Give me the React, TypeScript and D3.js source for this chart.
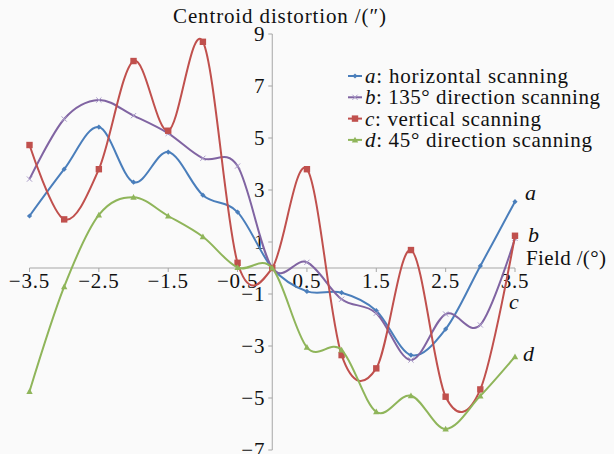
import React from "react";
import * as d3 from "d3";

// Field angles (degrees) sampled along the x axis
const fields = [-3.5, -3, -2.5, -2, -1.5, -1, -0.5, 0, 0.5, 1, 1.5, 2, 2.5, 3, 3.5];

// Centroid distortion (arc-seconds) for each scanning direction
const horizontal = [2.0, 3.8, 5.42, 3.3, 4.46, 2.8, 2.15, 0, -0.9, -0.95, -1.64, -3.35, -2.35, 0.08, 2.55];
const diag135 = [3.42, 5.73, 6.46, 5.86, 5.18, 4.22, 3.92, 0, 0.22, -1.2, -1.74, -3.54, -1.77, -2.19, 1.14];
const vertical = [4.73, 1.87, 3.8, 7.96, 5.28, 8.7, 0.2, 0, 3.8, -3.35, -3.86, 0.69, -4.95, -4.67, 1.24];
const diag45 = [-4.75, -0.72, 2.04, 2.72, 2.0, 1.2, 0.02, 0, -3.05, -3.15, -5.53, -4.91, -6.19, -4.92, -3.41];

const xTicks = [-3.5, -2.5, -1.5, -0.5, 0.5, 1.5, 2.5, 3.5];
const yTicks = [9, 7, 5, 3, 1, -1, -3, -5, -7];

type Series = {
  key: string;
  label: string;
  values: number[];
  color: string;
  marker: "diamond" | "cross" | "square" | "triangle";
  width: number;
};

const series: Series[] = [
  { key: "a", label: ": horizontal scanning", values: horizontal, color: "#4a7ebb", marker: "diamond", width: 203 },
  { key: "b", label: ": 135° direction scanning", values: diag135, color: "#8064a2", marker: "cross", width: 235 },
  { key: "c", label: ": vertical scanning", values: vertical, color: "#c0504d", marker: "square", width: 176 },
  { key: "d", label: ": 45° direction scanning", values: diag45, color: "#8fb55a", marker: "triangle", width: 227 },
];

// End-of-line letter tags
const endTags = [
  { key: "a", x: 3.5, y: 2.9, dx: 10 },
  { key: "b", x: 3.5, y: 1.3, dx: 13 },
  { key: "c", x: 3.5, y: -1.3, dx: -6 },
  { key: "d", x: 3.5, y: -3.3, dx: 8 },
];

const W = 614;
const H = 454;
const FONT = "Liberation Serif";

function Marker({ type, x, y, color }: { type: Series["marker"]; x: number; y: number; color: string }) {
  if (type === "diamond") {
    const r = 2.6;
    return <path d={`M${x},${y - r}L${x + r},${y}L${x},${y + r}L${x - r},${y}Z`} fill={color} />;
  }
  if (type === "cross") {
    const r = 2.6;
    return (
      <path
        d={`M${x - r},${y - r}L${x + r},${y + r}M${x - r},${y + r}L${x + r},${y - r}`}
        stroke="#a99bc8"
        strokeWidth={1}
        fill="none"
      />
    );
  }
  if (type === "square") {
    const r = 3.2;
    return <rect x={x - r} y={y - r} width={2 * r} height={2 * r} fill={color} />;
  }
  const r = 3.2;
  return <path d={`M${x},${y - r}L${x + r},${y + r * 0.8}L${x - r},${y + r * 0.8}Z`} fill={color} />;
}

const fmt = (t: number) => (t < 0 ? `\u2212${Math.abs(t)}` : `${t}`);

export default function App() {
  const x = d3.scaleLinear().domain([-3.5, 3.5]).range([29.5, 515]);
  const y = d3.scaleLinear().domain([-7, 9]).range([450, 34]);
  const line = d3
    .line<number>()
    .x((_, i) => x(fields[i]))
    .y((v) => y(v))
    .curve(d3.curveCardinal.tension(0));

  const x0 = x(0);
  const y0 = y(0);

  return (
    <svg
      width={W}
      height={H}
      style={{ position: "absolute", left: 0, top: 0, background: "#fafafa", fontFamily: FONT }}
    >
      <rect width={W} height={H} fill="#fafafa" />

      {/* axes */}
      <line x1={x(-3.5)} x2={x(3.5)} y1={y0} y2={y0} stroke="#a6a6a6" strokeWidth={1} />
      <line x1={x0} x2={x0} y1={y(9)} y2={y(-7)} stroke="#a6a6a6" strokeWidth={1} />
      {yTicks.map((t) => (
        <g key={`y${t}`}>
          <line x1={x0 - 4} x2={x0} y1={y(t)} y2={y(t)} stroke="#a6a6a6" />
          <text x={x0 - 7} y={y(t)} dy="0.34em" textAnchor="end" fontSize={21} letterSpacing={0.8} fill="#111">
            {fmt(t)}
          </text>
        </g>
      ))}
      {xTicks.map((t) => (
        <g key={`x${t}`}>
          <line x1={x(t)} x2={x(t)} y1={y0} y2={y0 + 4} stroke="#a6a6a6" />
          <text x={x(t)} y={y0 + 19.5} textAnchor="middle" fontSize={21} letterSpacing={0.8} fill="#111">
            {fmt(t)}
          </text>
        </g>
      ))}

      {/* series */}
      {series.map((s) => (
        <g key={s.key}>
          <path d={line(s.values) ?? ""} fill="none" stroke={s.color} strokeWidth={2} />
          {s.values.map((v, i) => (
            <Marker key={i} type={s.marker} x={x(fields[i])} y={y(v)} color={s.color} />
          ))}
        </g>
      ))}

      {/* titles */}
      <text x={173} y={23} fontSize={21} textLength={213} lengthAdjust="spacing" fill="#111">
        Centroid distortion /(″)
      </text>
      <text x={526} y={265} fontSize={21} textLength={80} lengthAdjust="spacing" fill="#111">
        Field /(°)
      </text>

      {endTags.map((t) => (
        <text key={t.key} x={x(t.x) + t.dx} y={y(t.y)} dy="0.34em" fontSize={22} fontStyle="italic" fill="#111">
          {t.key}
        </text>
      ))}

      {/* legend */}
      {series.map((s, i) => {
        const ly = 76 + i * 21.3;
        return (
          <g key={`leg${s.key}`}>
            <line x1={348} x2={362} y1={ly} y2={ly} stroke={s.color} strokeWidth={2} />
            <Marker type={s.marker} x={355} y={ly} color={s.color} />
            <text
              x={365}
              y={ly}
              dy="0.34em"
              fontSize={21}
              textLength={s.width}
              lengthAdjust="spacing"
              fill="#111"
            >
              <tspan fontStyle="italic">{s.key}</tspan>
              {s.label}
            </text>
          </g>
        );
      })}
    </svg>
  );
}
